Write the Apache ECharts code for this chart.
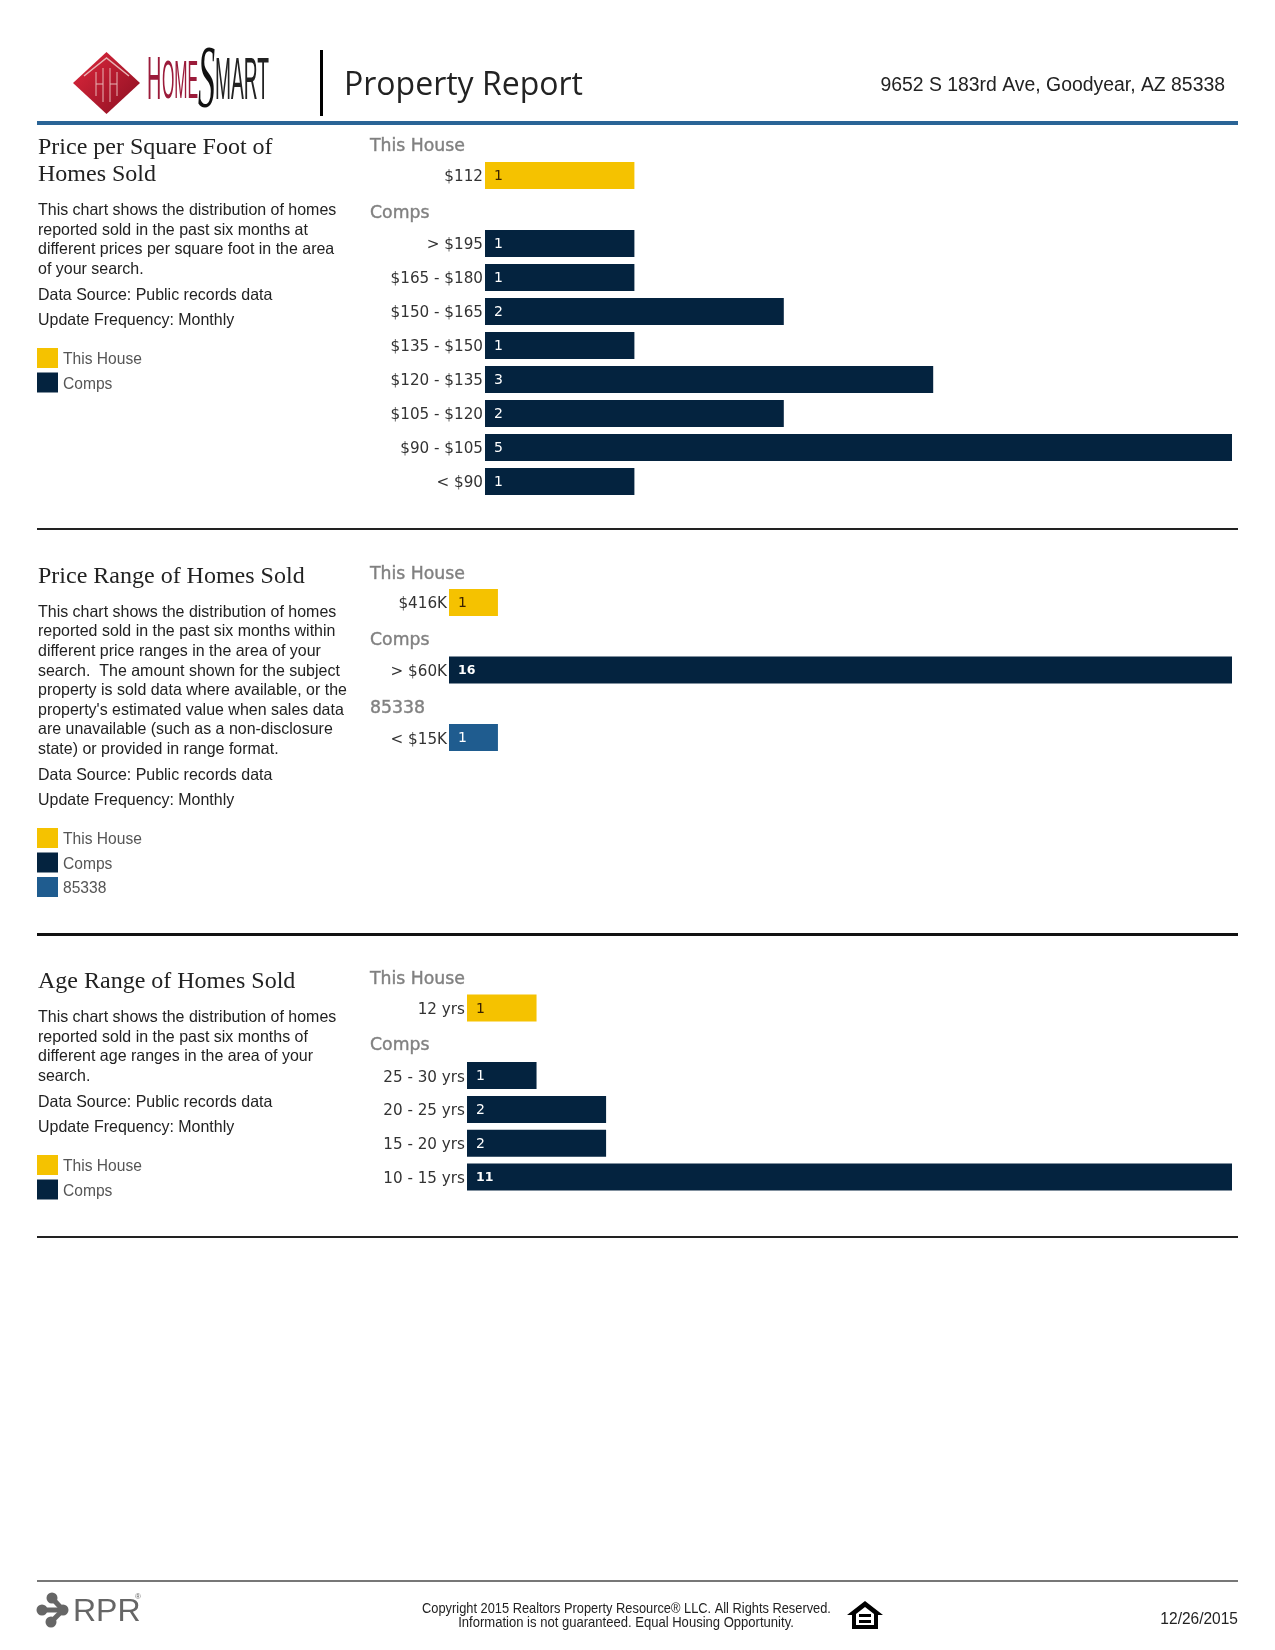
<!DOCTYPE html>
<html>
<head>
<meta charset="utf-8">
<style>html,body{margin:0;padding:0;background:#fff}#c{width:1275px;height:1650px}</style>
<script src="https://cdn.jsdelivr.net/npm/echarts@6/dist/echarts.min.js"></script>
</head>
<body>
<div id="c"></div>
<script>
var ppsfCategories = ['$112','','> $195','$165 - $180','$150 - $165','$135 - $150','$120 - $135','$105 - $120','$90 - $105','< $90'];
var ppsfHouse = [1,null,null,null,null,null,null,null,null,null];
var ppsfComps = [null,null,1,1,2,1,3,2,5,1];

var priceCategories = ['$416K','','> $60K','','< $15K'];
var priceHouse = [1,null,null,null,null];
var priceComps = [null,null,16,null,null];
var priceZip = [null,null,null,null,1];

var ageCategories = ['12 yrs','','25 - 30 yrs','20 - 25 yrs','15 - 20 yrs','10 - 15 yrs'];
var ageHouse = [1,null,null,null,null,null];
var ageComps = [null,null,1,2,2,11];

var YELLOW='#F5C200', NAVY='#04233F', BLUE='#1F5C8F';
var SANS='"Liberation Sans"', SERIF='"Liberation Serif"', DV='"DejaVu Sans"';

function barSeries(name,data,idx,color,labelColor){
  return {type:'bar',name:name,data:data,xAxisIndex:idx,yAxisIndex:idx,barWidth:27,barGap:'-100%',
    itemStyle:{color:color},silent:true,
    label:{show:true,position:'insideLeft',distance:9,offset:[0,1],color:labelColor,fontFamily:DV,fontSize:14,
      rich:{b:{color:labelColor,fontFamily:DV,fontSize:12.5,fontWeight:'bold'}},
      formatter:function(p){return p.value>=10?'{b|'+p.value+'}':String(p.value);}}};
}
function yAxis(cats,idx){
  return {type:'category',gridIndex:idx,inverse:true,data:cats,
    axisLine:{show:false},axisTick:{show:false},splitLine:{show:false},
    axisLabel:{interval:0,margin:2,fontFamily:DV,fontSize:15.2,color:'#333',
      formatter:function(v){return v?'{a|'+v+'}':'';},
      rich:{a:{fontFamily:DV,fontSize:15.2,color:'#333',padding:[4,0,0,0]}}}};
}
function xAxis(max,idx){
  return {type:'value',gridIndex:idx,min:0,max:max,show:false};
}
var g=[];
function T(text,x,y,font,size,color,align,sx,extra){
  var st={text:text,fill:color,fontFamily:font,fontSize:size,align:align||'left',verticalAlign:'middle'};
  if(extra){for(var k in extra){st[k]=extra[k];}}
  g.push({type:'text',x:x,y:y,scaleX:sx||1,silent:true,style:st});
}
function R(x,y,w,h,c){g.push({type:'rect',silent:true,shape:{x:x,y:y,width:w,height:h},style:{fill:c}});}
function block(title,titleYs,body,bodyYs,srcY,updY){
  title.forEach(function(t,i){T(t,38,titleYs[i],SERIF,24,'#222');});
  body.forEach(function(t,i){T(t,38,bodyYs[i]+1,SANS,16.5,'#222','left',0.968);});
  T('Data Source: Public records data',38,srcY+1,SANS,16.5,'#222','left',0.968);
  T('Update Frequency: Monthly',38,updY+1,SANS,16.5,'#222','left',0.968);
}
// rules
R(37,121,1201,4,'#2A6496');
R(37,528,1201,2,'#222');
R(37,933,1201,3,'#111');
R(37,1236,1201,2,'#222');
R(37,1580,1201,2,'#777');
R(320,50,3,66,'#000');

// logo
g.push({type:'polygon',silent:true,shape:{points:[[73,83],[106.5,52],[140,83],[106.5,114]]},
  style:{fill:{type:'linear',x:0,y:0,x2:1,y2:1,colorStops:[{offset:0,color:'#E0283C'},{offset:1,color:'#8A0F22'}]}}});
g.push({type:'polyline',silent:true,shape:{points:[[84,76],[106.5,58],[129,76]]},style:{stroke:'#E8B5B5',lineWidth:1.5,fill:'none'}});
[[96,72,96,96],[103,68,103,102],[110,68,110,102],[117,72,117,96],[96,84,103,84],[110,84,117,84]].forEach(function(l){
  g.push({type:'line',silent:true,shape:{x1:l[0],y1:l[1],x2:l[2],y2:l[3]},style:{stroke:'#E8B5B5',lineWidth:1}});});
g.push({type:'text',silent:true,x:147,y:82,scaleX:.32,style:{text:'H',fill:'#9B1B3A',fontFamily:SANS,fontSize:62,verticalAlign:'middle'}});
g.push({type:'text',silent:true,x:162,y:83,scaleX:.30,style:{text:'OME',fill:'#9B1B3A',fontFamily:SANS,fontSize:53,verticalAlign:'middle'}});
g.push({type:'text',silent:true,x:198,y:83,scaleX:.39,style:{text:'S',fill:'#111',fontFamily:SERIF,fontStyle:'italic',fontSize:88,verticalAlign:'middle'}});
g.push({type:'text',silent:true,x:215,y:82,scaleX:.32,style:{text:'MART',fill:'#222',fontFamily:SANS,fontSize:60,verticalAlign:'middle'}});

T('Property Report',344,86,'"Open Sans"',32,'#222');
T('9652 S 183rd Ave, Goodyear, AZ 85338',1225,86,SANS,19.4,'#222','right');

block(['Price per Square Foot of','Homes Sold'],[148,175],
  ['This chart shows the distribution of homes','reported sold in the past six months at','different prices per square foot in the area','of your search.'],
  [209,229,248,268],294,319);
block(['Price Range of Homes Sold'],[577],
  ['This chart shows the distribution of homes','reported sold in the past six months within','different price ranges in the area of your','search.  The amount shown for the subject','property is sold data where available, or the',"property's estimated value when sales data",'are unavailable (such as a non-disclosure','state) or provided in range format.'],
  [611,630,650,670,689,709,728,748],774,799);
block(['Age Range of Homes Sold'],[982],
  ['This chart shows the distribution of homes','reported sold in the past six months of','different age ranges in the area of your','search.'],
  [1016,1036,1055,1075],1101,1126);

// group headings
[['This House',145],['Comps',212],['This House',573],['Comps',639],['85338',707],['This House',978],['Comps',1044]].forEach(function(h){
  T(h[0],370,h[1]+2,DV,17.3,'#808080','left',1,{stroke:'#9a9a9a',lineWidth:0.5});
});

// footer
[[42,1610,63,1610],[52,1598,63,1610],[51,1622,63,1610]].forEach(function(l){
  g.push({type:'line',silent:true,shape:{x1:l[0],y1:l[1],x2:l[2],y2:l[3]},style:{stroke:'#666',lineWidth:5}});});
[[42,1610,5.5],[52,1598,5.5],[63,1610,5.5],[51,1622,5.5]].forEach(function(c){
  g.push({type:'circle',silent:true,shape:{cx:c[0],cy:c[1],r:c[2]},style:{fill:'#666'}});});
T('RPR',73,1612,SANS,32,'#666');
T('®',135,1597,SANS,8,'#666');
T('Copyright 2015 Realtors Property Resource® LLC. All Rights Reserved.',626.5,1609,SANS,14.5,'#222','center',0.885);
T('Information is not guaranteed. Equal Housing Opportunity.',626,1623,SANS,14.5,'#222','center',0.90);
T('12/26/2015',1238,1619,SANS,16.5,'#222','right',0.94);
g.push({type:'polygon',silent:true,shape:{points:[[865,1601],[883,1615],[878,1615],[878,1629],[852,1629],[852,1615],[847,1615]]},style:{fill:'#000'}});
g.push({type:'polygon',silent:true,shape:{points:[[865,1607],[874,1614],[874,1625],[856,1625],[856,1614]]},style:{fill:'#fff'}});
R(859,1614,12,3,'#000');
R(859,1620,12,3,'#000');

var legendBase={orient:'vertical',left:37,padding:0,itemWidth:21,itemHeight:20,itemGap:4.5,itemStyle:{borderWidth:0},
  icon:'rect',selectedMode:false,formatter:function(n){return '{a|'+n+'}';},
  textStyle:{fontFamily:SANS,fontSize:15.6,color:'#555',
    rich:{a:{fontFamily:SANS,fontSize:15.6,color:'#555',padding:[4,0,0,0]}}}};
function L(top,data){return Object.assign({},legendBase,{top:top,data:data});}

var option={
  animation:false,
  backgroundColor:'#fff',
  grid:[
    {left:485,top:158.5,width:747,height:340},
    {left:449,top:585.5,width:783,height:169},
    {left:467,top:991,width:765,height:203}
  ],
  legend:[
    L(348,['This House','Comps']),
    L(828,['This House','Comps','85338']),
    L(1155,['This House','Comps'])
  ],
  xAxis:[xAxis(5,0),xAxis(16,1),xAxis(11,2)],
  yAxis:[yAxis(ppsfCategories,0),yAxis(priceCategories,1),yAxis(ageCategories,2)],
  series:[
    barSeries('This House',ppsfHouse,0,YELLOW,'#3A2200'),
    barSeries('Comps',ppsfComps,0,NAVY,'#fff'),
    barSeries('This House',priceHouse,1,YELLOW,'#3A2200'),
    barSeries('Comps',priceComps,1,NAVY,'#fff'),
    barSeries('85338',priceZip,1,BLUE,'#fff'),
    barSeries('This House',ageHouse,2,YELLOW,'#3A2200'),
    barSeries('Comps',ageComps,2,NAVY,'#fff')
  ],
  graphic:{elements:g}
};
var chart=echarts.init(document.getElementById('c'),null,{renderer:'canvas',width:1275,height:1650});
chart.setOption(option);
</script>
</body>
</html>
